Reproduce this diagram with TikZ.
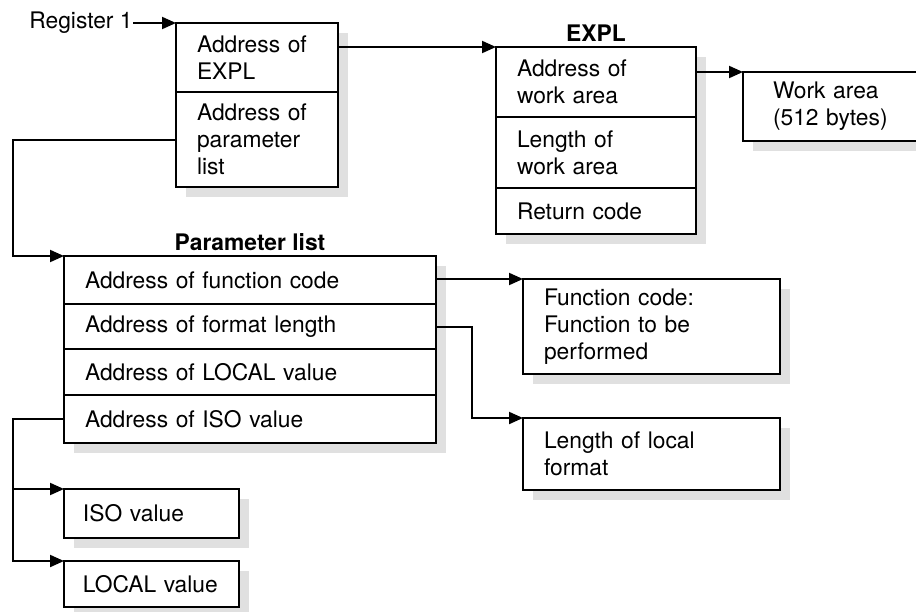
\documentclass[tikz,border=0pt]{standalone}
\usepackage{fontspec}
\setmainfont{TeX Gyre Heros}
\usetikzlibrary{arrows.meta,positioning,shadows}

\begin{document}
\begin{tikzpicture}[x=0.5pt, y=-0.5pt,
  txt/.style={font=\fontsize{11.4}{13.5}\selectfont},
  cell/.style={txt, draw, line width=0.9pt, fill=white, align=left, text width=#1,
               inner xsep=10.5pt, inner ysep=0pt, outer sep=0pt,
               drop shadow={shadow xshift=5pt, shadow yshift=-5pt, fill=black!12, opacity=1}},
  first/.style={cell=#1, anchor=north west},
  ttl/.style={font=\fontsize{11.4}{13.5}\selectfont\bfseries, inner sep=0pt},
  arr/.style={-{Triangle[length=7pt,width=6pt]}, line width=1pt}]
\useasboundingbox (0,0) rectangle (916,611);
\clip (0,0) rectangle (916,611);
% register 1 and the first control block
\node[txt, anchor=east, inner sep=0pt] (reg) at (133,23) {Register 1};
\node[first=60pt, minimum height=34.5pt] (adexpl) at (176,23) {Address of\\EXPL};
\node[cell=60pt, minimum height=47.5pt, below=0pt of adexpl] (adparm) {Address of\\parameter\\list};
% EXPL and the work area
\node[ttl] (expl) at (596,33) {EXPL};
\node[first=79pt, minimum height=35pt] (wkaddr) at (496,47) {Address of\\work area};
\node[cell=79pt, minimum height=35.5pt, below=0pt of wkaddr] (wklen) {Length of\\work area};
\node[cell=79pt, minimum height=23pt, below=0pt of wklen] (retcode) {Return code};
\node[first=62pt, minimum height=34.5pt, inner xsep=15pt] (work) at (743,72) {Work area\\(512 bytes)};
% parameter list
\node[ttl] (plist) at (250,242) {Parameter list};
\node[first=165pt, minimum height=24pt] (pfunc) at (64,256) {Address of function code};
\node[cell=165pt, minimum height=22.5pt, below=0pt of pfunc] (pfmt) {Address of format length};
\node[cell=165pt, minimum height=23pt, below=0pt of pfmt] (plocal) {Address of LOCAL value};
\node[cell=165pt, minimum height=24pt, below=0pt of plocal] (piso) {Address of ISO value};
% what the parameter list points to
\node[first=107.5pt, minimum height=47.5pt] (func) at (523,279) {Function code:\\Function to be\\performed};
\node[first=107.5pt, minimum height=36pt] (fmtlen) at (523,418) {Length of local\\format};
\node[first=68.5pt, minimum height=24.5pt, inner xsep=9.5pt] (isoval) at (64,489) {ISO value};
\node[first=68.5pt, minimum height=23pt, inner xsep=9.5pt] (locval) at (64,561) {LOCAL value};
\draw[arr] (reg.east |- adexpl.north west) -- (adexpl.north west);
\draw[arr] (adexpl.east |- wkaddr.north west) -- (wkaddr.north west);
\draw[arr] (wkaddr.east |- work.north west) -- (work.north west);
\draw[arr] (adparm.west) -- ++(-163,0) |- (pfunc.north west);
\draw[arr] (pfunc.east |- func.north west) -- (func.north west);
\draw[arr] (pfmt.east) -- ++(36,0) |- (fmtlen.north west);
\draw[arr] (piso.west) -- ++(-51,0) |- (isoval.north west);
\draw[arr] (piso.west) -- ++(-51,0) |- (locval.north west);
\end{tikzpicture}
\end{document}
